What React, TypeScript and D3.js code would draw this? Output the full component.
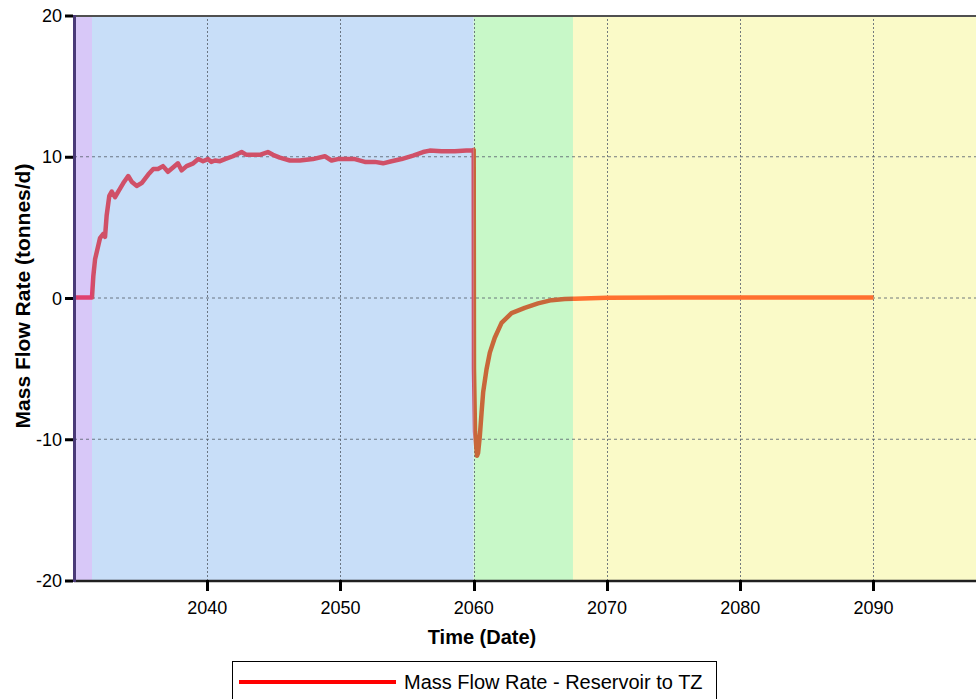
import React from "react";
import * as d3 from "d3";

// Time (decimal year) and mass flow rate (tonnes/d), Reservoir -> TZ
const years: number[] = [
  2030.0, 2031.35, 2031.45, 2031.58, 2031.95, 2032.2, 2032.33, 2032.45, 2032.65, 2032.83,
  2033.08, 2033.32, 2033.7, 2034.07, 2034.33, 2034.7, 2035.08, 2035.57, 2035.95, 2036.3,
  2036.68, 2037.05, 2037.43, 2037.8, 2038.08, 2038.45, 2038.95, 2039.33, 2039.68, 2040.05,
  2040.3, 2040.58, 2040.95, 2041.33, 2041.93, 2042.58, 2042.95, 2043.43, 2043.95, 2044.55,
  2044.93, 2045.45, 2046.2, 2046.95, 2047.93, 2048.83, 2049.33, 2049.8, 2050.33, 2051.08,
  2051.83, 2052.58, 2053.2, 2053.83, 2054.58, 2055.45, 2056.2, 2056.7, 2057.58, 2058.58,
  2059.46, 2059.84, 2060.0, 2060.02, 2060.1, 2060.25, 2060.33, 2060.46, 2060.59, 2060.71,
  2060.96, 2061.21, 2061.58, 2062.09, 2062.84, 2063.83, 2064.83, 2065.84, 2066.83, 2067.58,
  2070.0, 2075.0, 2080.0, 2085.0, 2090.0,
];
const flow: number[] = [
  0.0, 0.0, 1.5, 2.7, 4.2, 4.5, 4.3, 5.8, 7.2, 7.5,
  7.1, 7.5, 8.1, 8.6, 8.2, 7.9, 8.1, 8.7, 9.1, 9.1,
  9.3, 8.9, 9.2, 9.5, 9.0, 9.3, 9.5, 9.8, 9.65, 9.8,
  9.6, 9.7, 9.65, 9.8, 10.0, 10.3, 10.1, 10.1, 10.1, 10.3,
  10.1, 9.9, 9.7, 9.7, 9.8, 10.0, 9.7, 9.8, 9.8, 9.8,
  9.6, 9.6, 9.5, 9.65, 9.8, 10.05, 10.3, 10.4, 10.35, 10.35,
  10.4, 10.4, 10.45, -5.0, -9.5, -11.2, -11.0, -9.8, -8.15, -6.7,
  -5.1, -3.9, -2.85, -1.8, -1.1, -0.73, -0.42, -0.19, -0.1, -0.08,
  -0.02, 0.0, 0.0, 0.0, 0.0,
];

// Operating phases shown as background bands
const phaseStarts: number[] = [2030.0, 2031.35, 2060.0, 2067.45];
const phaseEnds: number[] = [2031.35, 2060.0, 2067.45, 2097.7];
const phaseFills: string[] = ["#d8c8f8", "#c8def8", "#c8f8c8", "#fafac8"];
const phaseLineColors: string[] = ["#e0406e", "#d05068", "#c8673a", "#ff7030"];

const xTicks: number[] = [2040, 2050, 2060, 2070, 2080, 2090];
const yTicks: number[] = [-20, -10, 0, 10, 20];
const legendLabel = "Mass Flow Rate - Reservoir to TZ";

const FONT = "'Liberation Sans', Arial, Helvetica, sans-serif";

export default function App() {
  const W = 976;
  const H = 699;
  const left = 74;
  const right = 976;
  const top = 15;
  const bottom = 580;

  const x = d3.scaleLinear().domain([2030, 2097.7]).range([left, right]);
  const y = d3.scaleLinear().domain([-20, 20]).range([bottom, top]);

  const pts: [number, number][] = years.map((t, i) => [t, flow[i]]);
  const line = d3
    .line<[number, number]>()
    .x((d) => x(d[0]))
    .y((d) => y(d[1]))
    .curve(d3.curveLinear);
  const pathD = line(pts) || "";

  return (
    <svg
      width={W}
      height={H}
      viewBox={`0 0 ${W} ${H}`}
      style={{ position: "absolute", left: 0, top: 0, background: "#fff" }}
      fontFamily={FONT}
    >
      <defs>
        {phaseStarts.map((s, i) => (
          <clipPath id={`phase-clip-${i}`} key={i}>
            <rect x={x(s)} y={0} width={x(phaseEnds[i]) - x(s)} height={H} />
          </clipPath>
        ))}
      </defs>

      {/* phase bands */}
      {phaseStarts.map((s, i) => (
        <rect
          key={i}
          x={x(s)}
          y={top}
          width={x(phaseEnds[i]) - x(s)}
          height={bottom - top}
          fill={phaseFills[i]}
        />
      ))}

      {/* grid */}
      {yTicks
        .filter((v) => v !== 20 && v !== -20)
        .map((v) => (
          <line
            key={`gy${v}`}
            x1={left}
            x2={right}
            y1={y(v) + 0.5}
            y2={y(v) + 0.5}
            stroke="#5a6470"
            strokeOpacity={0.85}
            strokeWidth={1}
            strokeDasharray="3,3"
          />
        ))}
      {xTicks.map((v) => (
        <line
          key={`gx${v}`}
          x1={Math.round(x(v)) + 0.5}
          x2={Math.round(x(v)) + 0.5}
          y1={top}
          y2={bottom}
          stroke="#5a6470"
          strokeOpacity={0.85}
          strokeWidth={1}
          strokeDasharray="2,2"
        />
      ))}

      {/* series, tinted per phase */}
      {phaseStarts.map((_, i) => (
        <path
          key={`ln${i}`}
          d={pathD}
          fill="none"
          stroke={phaseLineColors[i]}
          strokeWidth={4.5}
          strokeLinejoin="round"
          clipPath={`url(#phase-clip-${i})`}
        />
      ))}

      {/* frame */}
      <line x1={left} x2={right} y1={top + 1} y2={top + 1} stroke="#505050" strokeWidth={2} />
      <line x1={left} x2={right} y1={bottom + 1} y2={bottom + 1} stroke="#202020" strokeWidth={2.5} />
      <line x1={left + 0.5} x2={left + 0.5} y1={top} y2={bottom + 2} stroke="#4a3a78" strokeWidth={3} />

      {/* y axis ticks */}
      {yTicks.map((v) => (
        <g key={`yt${v}`}>
          <line x1={65} x2={73} y1={y(v) + 1} y2={y(v) + 1} stroke="#000" strokeWidth={3} />
          <text x={62} y={y(v) + 7} textAnchor="end" fontSize={18} fill="#000">
            {v}
          </text>
        </g>
      ))}

      {/* x axis ticks */}
      {xTicks.map((v) => (
        <g key={`xt${v}`}>
          <line
            x1={Math.round(x(v)) + 0.5}
            x2={Math.round(x(v)) + 0.5}
            y1={bottom}
            y2={bottom + 11}
            stroke="#000"
            strokeWidth={3}
          />
          <text x={x(v)} y={614} textAnchor="middle" fontSize={18} fill="#000">
            {v}
          </text>
        </g>
      ))}

      {/* axis titles */}
      <text x={482} y={644} textAnchor="middle" fontSize={20} fontWeight="bold" fill="#000">
        Time (Date)
      </text>
      <text
        transform={`translate(30, 296) rotate(-90)`}
        textAnchor="middle"
        fontSize={21}
        fontWeight="bold"
        fill="#000"
      >
        Mass Flow Rate (tonnes/d)
      </text>

      {/* legend */}
      <rect x={232.5} y={661.5} width={484} height={50} fill="#fff" stroke="#000" strokeWidth={1} />
      <line x1={239} x2={396} y1={682} y2={682} stroke="#ff0000" strokeWidth={4} />
      <text x={404} y={689} fontSize={20} fill="#000">
        {legendLabel}
      </text>
    </svg>
  );
}
